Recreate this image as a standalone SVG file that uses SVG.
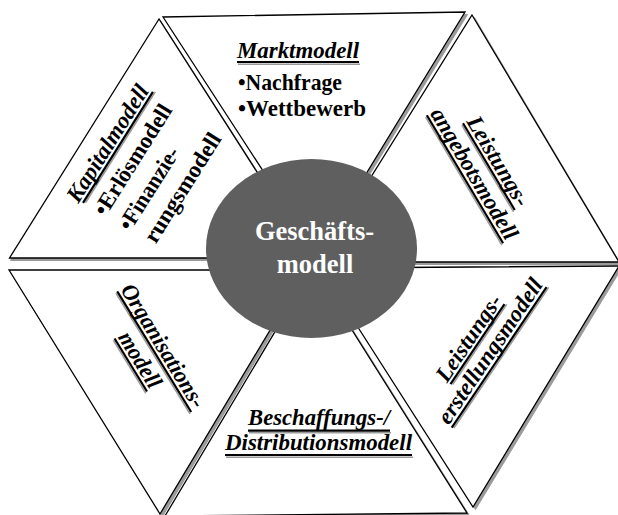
<svg xmlns="http://www.w3.org/2000/svg" width="618" height="515" viewBox="0 0 618 515">
<style>
.sh{fill:#9a9a9a;stroke:#9a9a9a;stroke-width:1}
.tri{fill:#ffffff;stroke:#000000;stroke-width:1.3;stroke-linejoin:miter}
.t{font-family:"Liberation Serif","Times New Roman",serif;font-size:23px;font-weight:bold;fill:#000}
.ti{font-style:italic}
.ul{stroke:#000;stroke-width:2.2}
.uls{stroke:#9a9a9a;stroke-width:1.5}
.c{font-family:"Liberation Serif","Times New Roman",serif;font-size:26.5px;font-weight:bold;fill:#ffffff;text-anchor:middle}
</style>
<rect width="618" height="515" fill="#ffffff"/>
<g id="connectors"/>
<g id="kapitalmodell">
<polygon class="sh" points="161,21.5 10.5,260.5 314.5,260.5"/>
<polygon class="tri" points="159,19 9.5,258 312,258"/>
<g transform="rotate(-57.8)">
<line class="uls" x1="-126" y1="180.4" x2="5" y2="180.4"/>
<line class="ul" x1="-127.5" y1="178.4" x2="3.7" y2="178.4"/>
<text class="t ti" x="-131" y="175" textLength="134" lengthAdjust="spacingAndGlyphs">Kapitalmodell</text>
<text class="t" x="-128" y="205" textLength="127" lengthAdjust="spacingAndGlyphs">•Erlösmodell</text>
<text class="t" x="-127" y="234" textLength="94" lengthAdjust="spacingAndGlyphs">•Finanzie-</text>
<text class="t" x="-124" y="262" textLength="125" lengthAdjust="spacingAndGlyphs">rungsmodell</text>
</g>
</g>
<g id="marktmodell">
<polygon class="sh" points="165.5,19.5 467.5,14.5 319.5,256.5"/>
<polygon class="tri" points="163,17 465,12 317,254"/>
<line class="uls" x1="238" y1="64.2" x2="360" y2="64.2"/>
<line class="ul" x1="237" y1="62" x2="359" y2="62"/>
<text class="t ti" x="237" y="58" textLength="122" lengthAdjust="spacingAndGlyphs">Marktmodell</text>
<text class="t" x="238" y="90" textLength="104" lengthAdjust="spacingAndGlyphs">•Nachfrage</text>
<text class="t" x="238" y="116" textLength="128" lengthAdjust="spacingAndGlyphs">•Wettbewerb</text>
</g>
<g id="leistungsangebotsmodell">
<polygon class="sh" points="474.5,17.5 621,264.5 320.5,264.5"/>
<polygon class="tri" points="472,15 619,262 318,262"/>
<g transform="rotate(59.2)">
<line class="uls" x1="344" y1="-332.6" x2="445" y2="-332.6"/>
<line class="ul" x1="343" y1="-334.6" x2="444" y2="-334.6"/>
<text class="t ti" x="393.5" y="-338" text-anchor="middle" textLength="101" lengthAdjust="spacingAndGlyphs">Leistungs-</text>
<line class="uls" x1="318.6" y1="-305.6" x2="467.5" y2="-305.6"/>
<line class="ul" x1="317.6" y1="-307.6" x2="466.5" y2="-307.6"/>
<text class="t ti" x="392" y="-311" text-anchor="middle" textLength="149" lengthAdjust="spacingAndGlyphs">angebotsmodell</text>
</g>
</g>
<g id="organisationsmodell">
<polygon class="sh" points="10.5,272.5 308.5,272.5 162.5,516.5"/>
<polygon class="tri" points="9,270 306,270 160,514"/>
<g transform="rotate(58.5)">
<line class="uls" x1="310.7" y1="54.3" x2="452.2" y2="54.3"/>
<line class="ul" x1="309.7" y1="52.3" x2="451.2" y2="52.3"/>
<text class="t ti" x="380" y="49" text-anchor="middle" textLength="141" lengthAdjust="spacingAndGlyphs">Organisations-</text>
<line class="uls" x1="349.5" y1="81.2" x2="411.6" y2="81.2"/>
<line class="ul" x1="348.5" y1="79.2" x2="410.6" y2="79.2"/>
<text class="t ti" x="380" y="76" text-anchor="middle" textLength="62" lengthAdjust="spacingAndGlyphs">modell</text>
</g>
</g>
<g id="beschaffungsmodell">
<polygon class="sh" points="315.5,270.5 469.5,515.5 167.5,518.5"/>
<polygon class="tri" points="313,268 467,513 165,516"/>
<line class="uls" x1="249" y1="432.8" x2="391" y2="432.8"/>
<line class="ul" x1="248" y1="430.6" x2="390" y2="430.6"/>
<text class="t ti" x="248" y="425" textLength="142" lengthAdjust="spacingAndGlyphs">Beschaffungs-/</text>
<line class="uls" x1="226" y1="457.2" x2="413" y2="457.2"/>
<line class="ul" x1="225" y1="455" x2="412" y2="455"/>
<text class="t ti" x="225" y="450" textLength="187" lengthAdjust="spacingAndGlyphs">Distributionsmodell</text>
</g>
<g id="leistungserstellungsmodell">
<polygon class="sh" points="322.5,270.5 621.5,268.5 475.5,509.5"/>
<polygon class="tri" points="320,268 619,266 473,507"/>
<g transform="rotate(-56)">
<line class="uls" x1="-65.6" y1="590.3" x2="31" y2="590.3"/>
<line class="ul" x1="-66.6" y1="588.3" x2="30" y2="588.3"/>
<text class="t ti" x="-18" y="585" text-anchor="middle" textLength="100" lengthAdjust="spacingAndGlyphs">Leistungs-</text>
<line class="uls" x1="-101" y1="615.7" x2="68.6" y2="615.7"/>
<line class="ul" x1="-102" y1="613.7" x2="67.6" y2="613.7"/>
<text class="t ti" x="-17" y="610" text-anchor="middle" textLength="170" lengthAdjust="spacingAndGlyphs">erstellungsmodell</text>
</g>
</g>
<g id="geschaeftsmodell">
<ellipse cx="311.5" cy="248.5" rx="105.5" ry="89.5" fill="#5f5f5f"/>
<text class="c" x="314.5" y="240">Geschäfts-</text>
<text class="c" x="315" y="273">modell</text>
</g>
</svg>
